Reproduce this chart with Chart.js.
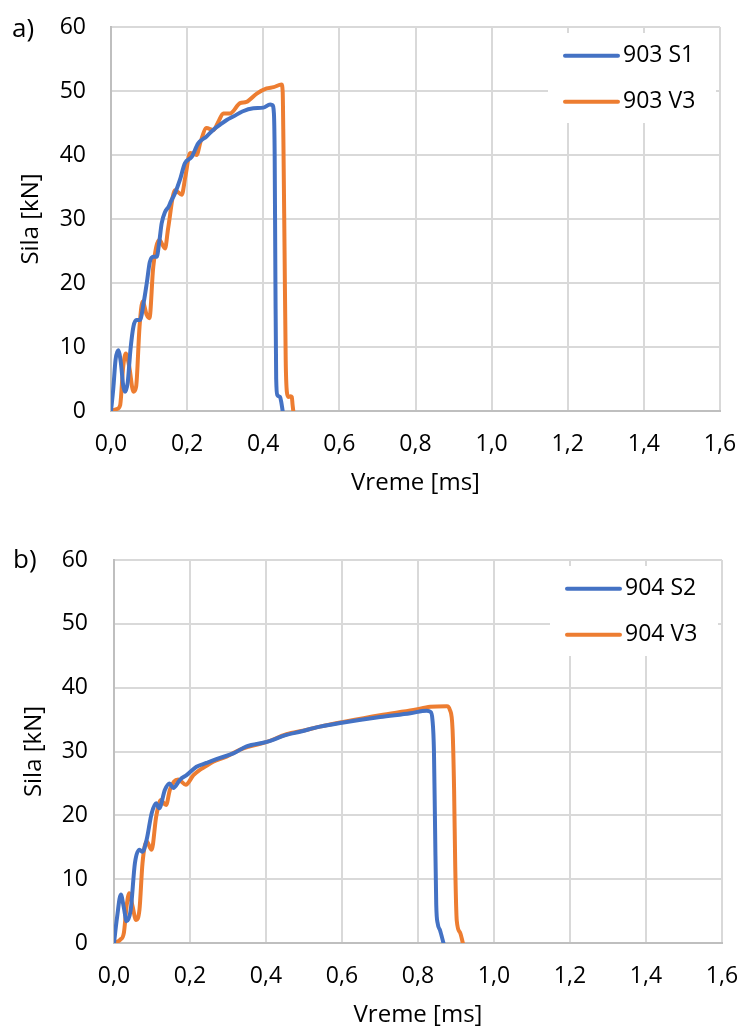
<!DOCTYPE html>
<html>
<head>
<meta charset="utf-8">
<script src="https://cdn.jsdelivr.net/npm/chart.js@4.4.1/dist/chart.umd.min.js"></script>
<style>
  html, body { margin: 0; padding: 0; background: #fff; }
  #wrap { position: relative; width: 737px; height: 1031px; }
  .panel { position: absolute; left: 0; width: 737px; }
  canvas { display: block; }
</style>
</head>
<body>
<div id="wrap">
  <div class="panel" style="top:0;height:515px"><canvas id="chartA" width="737" height="515"></canvas></div>
  <div class="panel" style="top:515px;height:516px"><canvas id="chartB" width="737" height="516"></canvas></div>
</div>
<script>
// ---------- DATA ----------
const panelLabels = ['a)', 'b)'];
const seriesNamesA = ['903 S1', '903 V3'];
const seriesNamesB = ['904 S2', '904 V3'];
const xTickValues = [0, 0.2, 0.4, 0.6, 0.8, 1.0, 1.2, 1.4, 1.6];
const xTickLabels = ['0,0', '0,2', '0,4', '0,6', '0,8', '1,0', '1,2', '1,4', '1,6'];
const yTickValues = [0, 10, 20, 30, 40, 50, 60];
const yTickLabels = ['0', '10', '20', '30', '40', '50', '60'];
const xTitle = 'Vreme [ms]';
const yTitle = 'Sila [kN]';

// 903 S1 (time ms, force kN)
const s903S1_t = [0, 0.006, 0.012, 0.019, 0.026, 0.032, 0.037, 0.044, 0.051, 0.059, 0.067, 0.076, 0.086, 0.094, 0.102, 0.111, 0.120, 0.127, 0.133, 0.142, 0.151, 0.157, 0.168, 0.181, 0.194, 0.212, 0.229, 0.251, 0.270, 0.286, 0.305, 0.321, 0.345, 0.374, 0.400, 0.418, 0.424, 0.428, 0.430, 0.432, 0.434, 0.437, 0.444, 0.447, 0.451];
const s903S1_f = [0, 3.5, 8.0, 9.5, 7.5, 4.0, 3.0, 4.5, 9.5, 13.2, 14.2, 14.2, 17.0, 20.0, 23.3, 24.1, 24.1, 26.5, 29.3, 31.1, 31.9, 32.7, 34.0, 36.1, 38.7, 39.7, 41.8, 42.9, 44.0, 44.7, 45.5, 46.0, 46.8, 47.3, 47.4, 47.9, 47.8, 46.5, 40.0, 20.0, 5.0, 2.5, 2.2, 1.5, 0];

// 903 V3
const s903V3_t = [0, 0.015, 0.024, 0.032, 0.039, 0.048, 0.059, 0.066, 0.075, 0.083, 0.094, 0.101, 0.111, 0.127, 0.142, 0.150, 0.168, 0.186, 0.195, 0.208, 0.225, 0.235, 0.251, 0.269, 0.282, 0.295, 0.313, 0.339, 0.356, 0.383, 0.409, 0.427, 0.448, 0.451, 0.453, 0.456, 0.459, 0.462, 0.466, 0.472, 0.475, 0.477, 0.479];
const s903V3_f = [0, 0.3, 0.9, 6.9, 9.0, 6.9, 3.0, 3.8, 13.2, 17.1, 15.0, 14.5, 22.5, 26.7, 25.4, 28.5, 34.5, 33.8, 36.5, 40.3, 40.0, 42.0, 44.2, 43.9, 45.2, 46.5, 46.5, 48.1, 48.3, 49.6, 50.4, 50.6, 51.0, 50.0, 42.0, 25.0, 8.0, 3.0, 2.2, 2.3, 2.2, 1.0, 0];

// 904 S2
const s904S2_t = [0, 0.008, 0.018, 0.026, 0.033, 0.044, 0.055, 0.067, 0.075, 0.086, 0.099, 0.111, 0.119, 0.134, 0.146, 0.156, 0.174, 0.191, 0.217, 0.243, 0.279, 0.314, 0.349, 0.402, 0.454, 0.489, 0.542, 0.600, 0.700, 0.780, 0.823, 0.833, 0.838, 0.842, 0.845, 0.848, 0.852, 0.858, 0.867];
const s904S2_f = [0, 4.0, 7.6, 5.5, 3.4, 5.2, 12.5, 14.6, 14.3, 16.2, 20.3, 21.9, 21.1, 24.0, 25.0, 24.3, 25.6, 26.3, 27.6, 28.2, 29.0, 29.7, 30.8, 31.5, 32.6, 33.1, 33.9, 34.5, 35.4, 36.0, 36.4, 36.2, 35.0, 30.0, 17.7, 6.0, 3.0, 2.0, 0];

// 904 V3
const s904V3_t = [0, 0.016, 0.026, 0.033, 0.040, 0.049, 0.058, 0.067, 0.075, 0.086, 0.099, 0.111, 0.123, 0.137, 0.147, 0.158, 0.169, 0.189, 0.209, 0.225, 0.239, 0.261, 0.296, 0.332, 0.358, 0.402, 0.454, 0.500, 0.542, 0.600, 0.700, 0.788, 0.832, 0.876, 0.884, 0.891, 0.895, 0.898, 0.902, 0.911, 0.918];
const s904V3_f = [0, 0.5, 1.6, 5.7, 7.8, 5.7, 3.6, 5.2, 12.5, 15.9, 14.6, 19.8, 22.4, 21.6, 24.0, 25.3, 25.6, 24.8, 26.3, 27.1, 27.6, 28.4, 29.2, 30.3, 30.8, 31.5, 32.7, 33.3, 33.9, 34.6, 35.7, 36.5, 37.0, 37.1, 36.5, 33.4, 24.0, 12.0, 3.5, 1.6, 0];

const colorBlue = '#4472C4';
const colorOrange = '#ED7D31';

// ---------- HELPERS ----------
function zip(ts, fs) { return ts.map((t, i) => ({ x: t, y: fs[i] })); }

const FONT = '"Open Sans", "DejaVu Sans", sans-serif';
const FSIZE = 23;
const TSIZE = 24;
const TLH = TSIZE * 1.2;
const LINEW = 4;

const panelPlugin = {
  id: 'panelDeco',
  beforeDatasetsDraw(chart, args, opts) {
    const a = chart.chartArea;
    const ctx = chart.ctx;
    ctx.save();
    ctx.fillStyle = '#ffffff';
    ctx.fillRect(a.right - 172, a.top + 6, 168, 90);
    ctx.restore();
  },
  afterDraw(chart, args, opts) {
    const a = chart.chartArea;
    const ctx = chart.ctx;
    ctx.save();
    ctx.font = FSIZE + 'px ' + FONT;
    ctx.fillStyle = '#000';
    // legend
    const ys = [a.top + 28.7, a.top + 74.7];
    chart.data.datasets.forEach((ds, i) => {
      const y = ys[i];
      ctx.strokeStyle = ds.borderColor;
      ctx.lineWidth = LINEW;
      ctx.lineCap = 'round';
      ctx.beginPath();
      ctx.moveTo(a.right - 155, y);
      ctx.lineTo(a.right - 102, y);
      ctx.stroke();
      ctx.textBaseline = 'middle';
      ctx.textAlign = 'left';
      ctx.fillText(ds.label, a.right - 97, y);
    });
    // panel letter
    ctx.font = '26px ' + FONT;
    ctx.textBaseline = 'alphabetic';
    ctx.textAlign = 'left';
    ctx.fillText(opts.label, opts.lx, a.top + opts.ly);
    ctx.restore();
  }
};

function makeChart(id, names, sets, geo) {
  const canvas = document.getElementById(id);
  const H = canvas.height;
  const xH = H - geo.bottom;
  return new Chart(canvas, {
    type: 'line',
    data: {
      datasets: [
        { label: names[0], data: zip(sets[0][0], sets[0][1]), borderColor: colorBlue },
        { label: names[1], data: zip(sets[1][0], sets[1][1]), borderColor: colorOrange }
      ].map(d => Object.assign(d, {
        borderWidth: LINEW, pointRadius: 0, fill: false,
        cubicInterpolationMode: 'monotone',
        borderCapStyle: 'round', borderJoinStyle: 'round'
      }))
    },
    options: {
      responsive: false,
      animation: false,
      devicePixelRatio: 1,
      layout: { padding: { left: 0, top: geo.top, right: 737 - geo.right, bottom: 0 } },
      plugins: {
        legend: { display: false },
        tooltip: { enabled: false },
        panelDeco: { label: geo.label, lx: geo.lx, ly: geo.ly }
      },
      scales: {
        x: {
          type: 'linear', min: 0, max: 1.6,
          afterBuildTicks: s => { s.ticks = xTickValues.map(v => ({ value: v })); },
          afterFit: s => { s.height = xH; s.paddingLeft = 0; s.paddingRight = 0; s.paddingTop = 0; s.paddingBottom = 0; },
          ticks: {
            callback: (v, i) => xTickLabels[i],
            font: { family: FONT, size: FSIZE }, color: '#000',
            padding: 20, maxRotation: 0, autoSkip: false
          },
          grid: { color: '#d9d9d9', lineWidth: 2, drawTicks: false },
          border: { color: '#bfbfbf', width: 2 },
          title: {
            display: true, text: xTitle, color: '#000',
            font: { family: FONT, size: TSIZE },
            padding: { top: 0, bottom: xH - TLH / 2 - 72.5 }
          }
        },
        y: {
          type: 'linear', min: 0, max: 60,
          afterBuildTicks: s => { s.ticks = yTickValues.map(v => ({ value: v })); },
          afterFit: s => { s.width = geo.left; s.paddingTop = 0; s.paddingBottom = 0; s.paddingLeft = 0; s.paddingRight = 0; },
          ticks: {
            callback: (v, i) => yTickLabels[i],
            font: { family: FONT, size: FSIZE }, color: '#000',
            padding: geo.ytp
          },
          grid: { color: '#d9d9d9', lineWidth: 2, drawTicks: false },
          border: { color: '#bfbfbf', width: 2 },
          title: {
            display: true, text: yTitle, color: '#000',
            font: { family: FONT, size: TSIZE },
            padding: { top: geo.ytx - TLH / 2, bottom: 0 }
          }
        }
      }
    },
    plugins: [panelPlugin]
  });
}

makeChart('chartA', seriesNamesA,
  [[s903S1_t, s903S1_f], [s903V3_t, s903V3_f]],
  { left: 111, right: 720, top: 27, bottom: 411, ytp: 25, ytx: 31, label: panelLabels[0], lx: 12, ly: 10 });

makeChart('chartB', seriesNamesB,
  [[s904S2_t, s904S2_f], [s904V3_t, s904V3_f]],
  { left: 114, right: 722, top: 45, bottom: 428, ytp: 26, ytx: 34, label: panelLabels[1], lx: 13, ly: 8 });
</script>
</body>
</html>
